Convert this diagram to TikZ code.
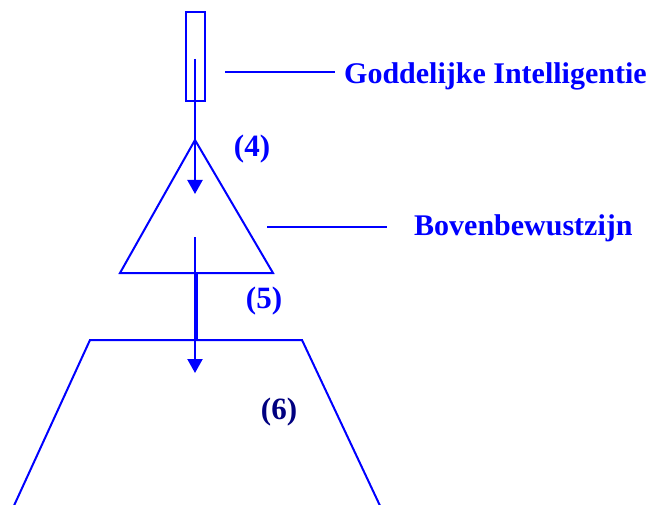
\documentclass[tikz,border=0pt]{standalone}
\usepackage{fontspec}
\setmainfont{Liberation Serif}
\usetikzlibrary{arrows.meta}
\definecolor{pblue}{RGB}{0,0,255}
\definecolor{pnavy}{RGB}{0,0,128}
\begin{document}
\begin{tikzpicture}[x=1pt,y=-1pt,
  shape line/.style={draw=pblue,line width=2pt,line join=miter},
  flow/.style={draw=pblue,line width=2.2pt,-{Triangle[length=14pt,width=15pt]}},
  lbl/.style={inner sep=0pt,font=\fontsize{31}{34}\selectfont\bfseries},
  caption/.style={inner sep=0pt,anchor=base west,text=pblue,font=\fontsize{30}{34}\selectfont\bfseries}]
\useasboundingbox (0,0) rectangle (653,505);
% shapes
\coordinate (rtl) at (185.5,12);
\coordinate (rbr) at (205,101.5);
\draw[shape line] (rtl) rectangle (rbr);
\coordinate (apex) at (195,140);
\coordinate (tl) at (120,273);
\coordinate (tr) at (273,273);
\draw[shape line] (apex) -- (tr) -- (tl) -- cycle;
\coordinate (zbl) at (12,510);
\coordinate (ztl) at (90,340);
\coordinate (ztr) at (302,340);
\coordinate (zbr) at (382,510);
\draw[shape line] (zbl) -- (ztl) -- (ztr) -- (zbr);
% flows
\coordinate (s1) at (195,59);
\coordinate (e1) at (195,194);
\draw[flow] (s1) -- (e1);
\coordinate (s2) at (195,237);
\coordinate (e2) at (195,373);
\draw[flow] (s2) -- (e2);
\coordinate (d1) at (196.5,273);
\coordinate (d2) at (196.5,340);
\draw[draw=pblue,line width=2pt] (d1) -- (d2);
% labels
\node[lbl,text=pblue] (n4) at (252,149) {(4)};
\node[lbl,text=pblue] (n5) at (264,301) {(5)};
\node[lbl,text=pnavy] (n6) at (279,412) {(6)};
% captions
\node[caption] (god) at (344,84) {Goddelijke Intelligentie};
\node[caption] (bov) at (414,235) {Bovenbewustzijn};
\coordinate (g1) at (225,72);
\coordinate (g2) at (335,72);
\draw[shape line] (g1) -- (g2);
\coordinate (b1) at (267,227);
\coordinate (b2) at (387,227);
\draw[shape line] (b1) -- (b2);
\end{tikzpicture}
\end{document}
